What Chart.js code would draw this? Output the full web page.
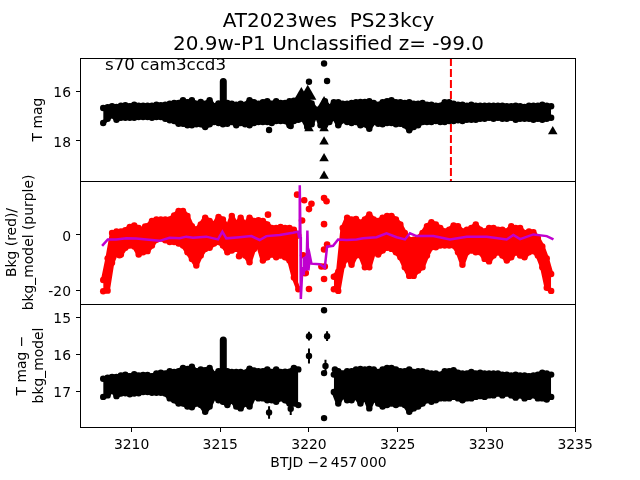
<!DOCTYPE html>
<html>
<head>
<meta charset="utf-8">
<script src="https://cdn.jsdelivr.net/npm/chart.js@4"></script>
<style>
    html, body { margin: 0; padding: 0; background: #fff; }
    canvas { display: block; }
</style>
</head>
<body>
<canvas id="lc" width="640" height="480"></canvas>
<script>
const times = [3208.4,3208.65,3208.9,3209.15,3209.4,3209.65,3209.9,3210.15,3210.4,3210.65,3210.9,3211.15,3211.4,3211.65,3211.9,3212.15,3212.4,3212.65,3212.9,3213.15,3213.4,3213.65,3213.9,3214.15,3214.4,3214.65,3214.9,3215.15,3215.4,3215.65,3215.9,3216.15,3216.4,3216.65,3216.9,3217.15,3217.4,3217.65,3217.9,3218.15,3218.4,3218.65,3218.9,3219.15,3219.4,
    3219.65,3219.9,3220.15,3220.4,3220.65,3220.9,3221.15,
    3221.4,3221.65,3221.9,3222.15,3222.4,3222.65,3222.9,3223.15,3223.4,3223.65,3223.9,3224.15,3224.4,3224.65,3224.9,3225.15,3225.4,3225.65,3225.9,3226.15,3226.4,3226.65,3226.9,3227.15,3227.4,3227.65,3227.9,3228.15,3228.4,3228.65,3228.9,3229.15,3229.4,3229.65,3229.9,3230.15,3230.4,3230.65,3230.9,3231.15,3231.4,3231.65,3231.9,3232.15,3232.4,3232.65,3232.9,3233.15,3233.4,3233.65];

// top panel, T mag envelope
const magTop = [16.68,16.65,16.61,16.64,16.59,16.57,16.61,16.55,16.59,16.59,16.59,16.59,16.55,16.57,16.55,16.51,16.48,16.48,16.37,16.45,16.37,16.51,16.44,16.51,16.37,16.61,16.5,16.48,16.48,16.51,16.55,16.51,16.55,16.37,16.45,16.51,16.45,16.41,16.51,16.41,16.48,16.48,16.41,16.39,16.35,
    16.4,16.35,16.5,16.75,16.7,16.41,16.68,
    16.45,16.45,16.51,16.51,16.48,16.45,16.44,16.44,16.41,16.48,16.55,16.45,16.41,16.37,16.45,16.45,16.48,16.45,16.51,16.51,16.48,16.55,16.55,16.59,16.59,16.45,16.45,16.51,16.55,16.55,16.59,16.55,16.59,16.59,16.59,16.59,16.59,16.59,16.59,16.61,16.61,16.59,16.61,16.64,16.59,16.59,16.59,16.55,16.59,16.61];
const magLow = [17.28,17.11,16.97,17.15,17.07,17.07,17.07,17.07,17.04,17.04,17.04,17.07,17.04,17.04,17.11,17.17,17.2,17.31,17.31,17.37,17.37,17.33,17.33,17.44,17.33,17.24,17.28,17.33,17.31,17.24,17.37,17.28,17.33,17.37,17.28,17.24,17.24,17.24,17.28,17.2,17.2,17.2,17.37,17.2,17.15,
    17.11,17.44,17.33,16.91,17.37,17.37,17.24,
    17.04,17.37,17.17,17.24,17.28,17.24,17.37,17.33,17.51,17.24,17.31,17.33,17.28,17.28,17.33,17.31,17.37,17.57,17.44,17.37,17.24,17.24,17.24,17.2,17.24,17.24,17.2,17.2,17.17,17.2,17.15,17.15,17.15,17.11,17.11,17.07,17.11,17.07,17.11,17.11,17.07,17.15,17.11,17.11,17.11,17.15,17.11,17.15,17.11,17.07];
const magDotT = [3220.85,3221.02,3220.0,3217.75,3218.97];
const magDotV = [14.9,15.6,15.63,17.56,17.4];
const spikeT = [3215.17,3215.17];
const magSpikeV = [15.62,16.5];
const limitT = [3220.85,3220.85,3220.85,3220.85,3220.0,3233.74];
const limitV = [18.03,18.7,19.4,17.5,17.5,17.62];
const bigLimitT = [3219.57,3219.93,3220.85];
const bigLimitV = [16.16,16.15,16.6];
const sectorEnd = 3228.0;

// middle panel
const bkgTop = [-16.2,-8.4,0.7,1.3,1.3,1.7,2.9,3.4,2.5,1.9,3.2,5.0,5.6,5.6,5.6,5.6,7.0,8.6,8.6,6.8,3.2,1.9,3.8,6.2,5.0,3.8,6.5,5.6,2.5,6.8,3.8,6.2,3.8,6.2,5.0,5.3,5.0,3.8,2.5,2.5,2.9,2.5,2.5,1.9,-0.2,
    null,null,null,null,null,null,null,
    -15,-13.2,2.5,6.2,5.6,5.8,4.4,5.6,7.4,5.6,5.0,6.2,6.8,6.8,5.6,3.8,0.7,-1.7,-1.7,-1.1,0.7,3.2,4.6,3.8,2.5,1.3,1.9,3.4,3.2,1.3,1.9,2.5,3.8,1.9,1.3,2.5,2.5,1.9,1.9,1.3,3.2,2.5,2.5,0.7,1.3,1.0,-1.1,-4.1,-8.4,-14];
const bkgLow = [-20.2,-20,-10,-6.2,-7.0,-4.6,-3.8,-4.1,-7.0,-6.2,-5.8,-3.8,-1.7,-1.3,-1.9,-2.5,-2.5,-3.1,-3.8,-6.2,-8.6,-11.0,-7.4,-5.0,-4.6,-3.1,-2.5,-3.8,-6.2,-5.6,-5.0,-6.2,-7.4,-9.8,-5.0,-3.8,-9.2,-8.0,-7.0,-8.0,-7.4,-8.0,-9.2,-15.3,-19.5,
    null,null,null,null,null,null,null,
    -19.5,-20.1,-11.0,-8.0,-10.7,-7.4,-7.4,-11.6,-11.6,-6.2,-7.0,-5.6,-4.6,-5.0,-6.2,-8.0,-11.6,-14.7,-14.7,-12.8,-11.6,-7.4,-4.4,-4.4,-3.8,-3.8,-3.8,-3.8,-6.2,-10.7,-6.2,-5.6,-6.2,-6.2,-8.6,-9.5,-7.4,-6.2,-7.4,-9.2,-8.0,-6.2,-7.4,-8.0,-6.2,-5.8,-7.4,-11.6,-19,-20.1];
const bkgDotT = [3219.33,3219.73,3220.14,3220.0,3219.61,3220.85,3220.99,3220.85,3221.02,3220.85,3220.0,3220.85,3219.67,3219.82,3219.73,3220.7,3220.89,3216.06,3217.69,3210.77,3209.32];
const bkgDotV = [14.5,12.5,11.2,9.3,5.2,13.3,12.1,3.9,-3.4,-5.2,-19.4,-15.8,-7.3,-13.7,-13.7,-11.3,-11.3,-7.6,7.3,3.0,-7.3];
const modelT = [3208.34,3208.66,3209.13,3209.7,3210.26,3210.83,3211.58,3212.14,3212.71,3213.08,3213.46,3214.21,3214.87,3215.12,3215.34,3216.09,3216.75,3217.22,3217.6,3218.35,3219.1,3219.39,3219.44,3219.48,3219.52,3219.54,3219.63,3219.67,3219.71,3219.76,3219.82,3219.86,3219.91,3219.97,3220.05,3220.14,3220.61,3220.89,3221.02,3221.36,3221.64,3222.11,3222.68,3223.05,3223.81,3224.37,3224.94,3225.41,3225.69,3226.06,3227.01,3227.95,3228.89,3230.02,3231.14,3231.52,3231.9,3232.65,3233.4,3233.78];
const modelV = [-3.9,-1.6,-1.6,-1.2,-1.3,-1.6,-2.1,-1.0,-1.2,-0.6,-1.0,-0.6,-1.6,1.2,-1.2,-0.8,-0.4,-1.8,-0.4,0,0.8,1.2,-0.6,17.9,-0.6,-23,-11.5,-14,-7.9,-13,-7.5,-12.7,1.6,-12.7,-7.5,-10.3,-10.5,-11.8,-4.2,-3.9,-1.6,-1.8,-1.6,-1.2,-0.8,0.6,-0.8,-1.6,0.6,-0.4,-0.4,-1.6,-0.6,-0.6,-1.6,0,-1.5,0.2,-0.4,-1.6];

// bottom panel
const diffTop = [16.65,16.62,16.6,16.6,16.56,16.54,16.58,16.53,16.56,16.55,16.55,16.58,16.51,16.49,16.51,16.45,16.47,16.45,16.36,16.39,16.33,16.45,16.4,16.42,16.36,16.54,16.45,16.42,16.45,16.47,16.47,16.47,16.49,16.38,16.43,16.45,16.45,16.4,16.47,16.4,16.47,16.46,16.46,16.36,16.4,
    null,null,null,null,null,null,null,
    16.54,16.45,16.51,16.45,16.45,16.4,16.39,16.4,16.39,16.4,16.47,16.4,16.36,16.36,16.4,16.45,16.45,16.4,16.47,16.45,16.45,16.49,16.51,16.51,16.54,16.45,16.45,16.42,16.49,16.51,16.51,16.47,16.51,16.49,16.51,16.51,16.51,16.51,16.54,16.54,16.56,16.54,16.56,16.56,16.58,16.56,16.54,16.49,16.51,16.54];
const diffLow = [17.14,17.1,16.96,17.12,17.05,17.04,17.07,17.05,17.04,17.01,17.01,17.03,17.03,17.03,17.05,17.18,17.23,17.32,17.32,17.4,17.42,17.32,17.36,17.54,17.4,17.14,17.23,17.27,17.36,17.23,17.4,17.45,17.32,17.4,17.14,17.18,17.18,17.23,17.23,17.27,17.18,17.23,17.32,17.32,17.36,
    null,null,null,null,null,null,null,
    17.01,17.32,17.1,17.23,17.23,17.14,17.32,17.14,17.45,17.18,17.32,17.4,17.36,17.32,17.36,17.32,17.36,17.54,17.45,17.4,17.32,17.23,17.27,17.23,17.18,17.18,17.18,17.14,17.18,17.23,17.18,17.18,17.14,17.12,17.14,17.1,17.1,17.05,17.1,17.05,17.1,17.16,17.1,17.18,17.14,17.1,17.18,17.18,17.21,17.14];
const diffSpikeV = [15.61,16.5];
const diffDotT = [3220.85,3220.0,3221.02,3220.0,3220.93,3220.85,3220.85,3217.75,3218.97,3221.46];
const diffDotV = [14.81,15.505,15.505,16.04,16.31,16.5,17.71,17.56,17.46,16.4];
const diffErr = [0.02,0.12,0.13,0.2,0.17,0.05,0.03,0.17,0.17,0.05];

const xTicks = [3210,3215,3220,3225,3230,3235];
const magTicks = [16,18];
const bkgTicks = [0,-20];
const diffTicks = [15,16,17];

const pts = (xs, ys) => xs.map((x, i) => ({x: x, y: ys[i]}));
const errPts = [];
diffDotT.forEach((t, i) => {
    errPts.push({x: t, y: diffDotV[i] - diffErr[i]}, {x: t, y: diffDotV[i] + diffErr[i]}, {x: t, y: null});
});

// upper and lower edge of the dense cloud of points
function band(values, axis, color, fill) {
    return {
        data: pts(times, values), yAxisID: axis, order: 10,
        borderColor: color, backgroundColor: color, borderWidth: 4.5,
        borderJoinStyle: 'round', borderCapStyle: 'round',
        pointRadius: 3.2, pointBorderWidth: 0, pointBackgroundColor: color,
        fill: fill, spanGaps: false, tension: 0
    };
}
function dots(xs, ys, axis, color, radius, style, order) {
    return {
        data: pts(xs, ys), yAxisID: axis, order: order, showLine: false,
        pointRadius: radius, pointStyle: style, pointBorderWidth: 0,
        pointBackgroundColor: color, backgroundColor: color, borderColor: color
    };
}
function spike(values, axis) {
    return {
        data: pts(spikeT, values), yAxisID: axis, order: 5,
        borderColor: '#000', borderWidth: 7, borderCapStyle: 'round', pointRadius: 0
    };
}
function yScale(min, max, tickList, reverse, label, pad) {
    return {
        type: 'linear', position: 'left', stack: 'lc', stackWeight: 1,
        min: min, max: max, reverse: reverse,
        afterBuildTicks: s => { s.ticks = tickList.map(v => ({value: v})); },
        afterFit: s => { s.width = 81; },
        grid: {display: true, drawOnChartArea: false, drawTicks: true, tickLength: 5, color: '#000'},
        border: {display: false},
        ticks: {color: '#000', font: {family: 'DejaVu Sans', size: 13.9}, padding: 5, labelOffset: 2, maxRotation: 0, autoSkip: false},
        title: {display: true, text: label, color: '#000', font: {family: 'DejaVu Sans', size: 13.9, lineHeight: 1.2}, padding: pad}
    };
}

const panelFrame = {
    id: 'panelFrame',
    afterDatasetsDraw(chart) {
        const c = chart.ctx;
        c.save();
        c.strokeStyle = '#000';
        c.lineWidth = 1;
        ['yMag', 'yBkg', 'yDiff'].forEach(id => {
            const s = chart.scales[id];
            c.strokeRect(s.left + s.width - 0.5, Math.round(s.top) + 0.5, chart.chartArea.width, Math.round(s.height));
        });
        c.fillStyle = '#000';
        c.font = '16.7px "DejaVu Sans"';
        c.fillText('s70 cam3ccd3', 105, 70);
        c.restore();
    }
};

new Chart(document.getElementById('lc'), {
    type: 'line',
    data: {
        datasets: [
            {data: [{x: sectorEnd, y: 14.68}, {x: sectorEnd, y: 19.6}], yAxisID: 'yMag', order: 20, borderColor: '#ff0000', borderWidth: 2, borderDash: [8, 3], pointRadius: 0},
            band(magTop, 'yMag', '#000', '+1'),
            band(magLow, 'yMag', '#000', false),
            spike(magSpikeV, 'yMag'),
            dots(magDotT, magDotV, 'yMag', '#000', 3.2, 'circle', 5),
            dots(limitT, limitV, 'yMag', '#000', 5.5, 'triangle', 5),
            dots(bigLimitT.slice(0, 1), bigLimitV.slice(0, 1), 'yMag', '#000', 8, 'triangle', 5),
            dots(bigLimitT.slice(1), bigLimitV.slice(1), 'yMag', '#000', 10, 'triangle', 5),
            band(bkgTop, 'yBkg', '#ff0000', '+1'),
            band(bkgLow, 'yBkg', '#ff0000', false),
            dots(bkgDotT, bkgDotV, 'yBkg', '#ff0000', 3.3, 'circle', 6),
            {data: pts(modelT, modelV), yAxisID: 'yBkg', order: 1, borderColor: '#bf00cf', borderWidth: 2.5, pointRadius: 0, tension: 0},
            band(diffTop, 'yDiff', '#000', '+1'),
            band(diffLow, 'yDiff', '#000', false),
            spike(diffSpikeV, 'yDiff'),
            dots(diffDotT, diffDotV, 'yDiff', '#000', 3.2, 'circle', 5),
            {data: errPts, yAxisID: 'yDiff', order: 5, borderColor: '#000', borderWidth: 2, pointRadius: 0, spanGaps: false}
        ]
    },
    options: {
        responsive: false,
        animation: false,
        events: [],
        layout: {padding: {left: 0, right: 64, top: 0, bottom: 0}},
        plugins: {
            legend: {display: false},
            tooltip: {enabled: false},
            title: {
                display: true,
                fullSize: false,
                text: ['AT2023wes  PS23kcy', '20.9w-P1 Unclassified z= -99.0'],
                color: '#000',
                font: {family: 'DejaVu Sans', size: 20, weight: 'normal', lineHeight: 1.15},
                padding: {top: 10, bottom: 2}
            }
        },
        scales: {
            x: {
                type: 'linear', min: 3207.15, max: 3235.05,
                afterBuildTicks: s => { s.ticks = xTicks.map(v => ({value: v})); },
                afterFit: s => { s.height = 53; },
                grid: {display: true, drawOnChartArea: false, drawTicks: true, tickLength: 5, color: '#000'},
                border: {display: false},
                ticks: {color: '#000', font: {family: 'DejaVu Sans', size: 13.9}, padding: 5, maxRotation: 0, autoSkip: false,
                    callback: v => String(v)},
                title: {display: true, text: 'BTJD \u22122\u2009457\u2009000', color: '#000', font: {family: 'DejaVu Sans', size: 13.9}, padding: {top: 0, bottom: 8}}
            },
            yDiff: yScale(14.64, 17.95, diffTicks, true, ['T mag \u2212', 'bkg_model'], {top: 14, bottom: 0}),
            yBkg: yScale(-24.8, 19.4, bkgTicks, false, ['Bkg (red)/', 'bkg_model (purple)'], {top: 4, bottom: 0}),
            yMag: yScale(14.68, 19.6, magTicks, true, 'T mag', {top: 30, bottom: 0})
        }
    },
    plugins: [panelFrame]
});
</script>
</body>
</html>
